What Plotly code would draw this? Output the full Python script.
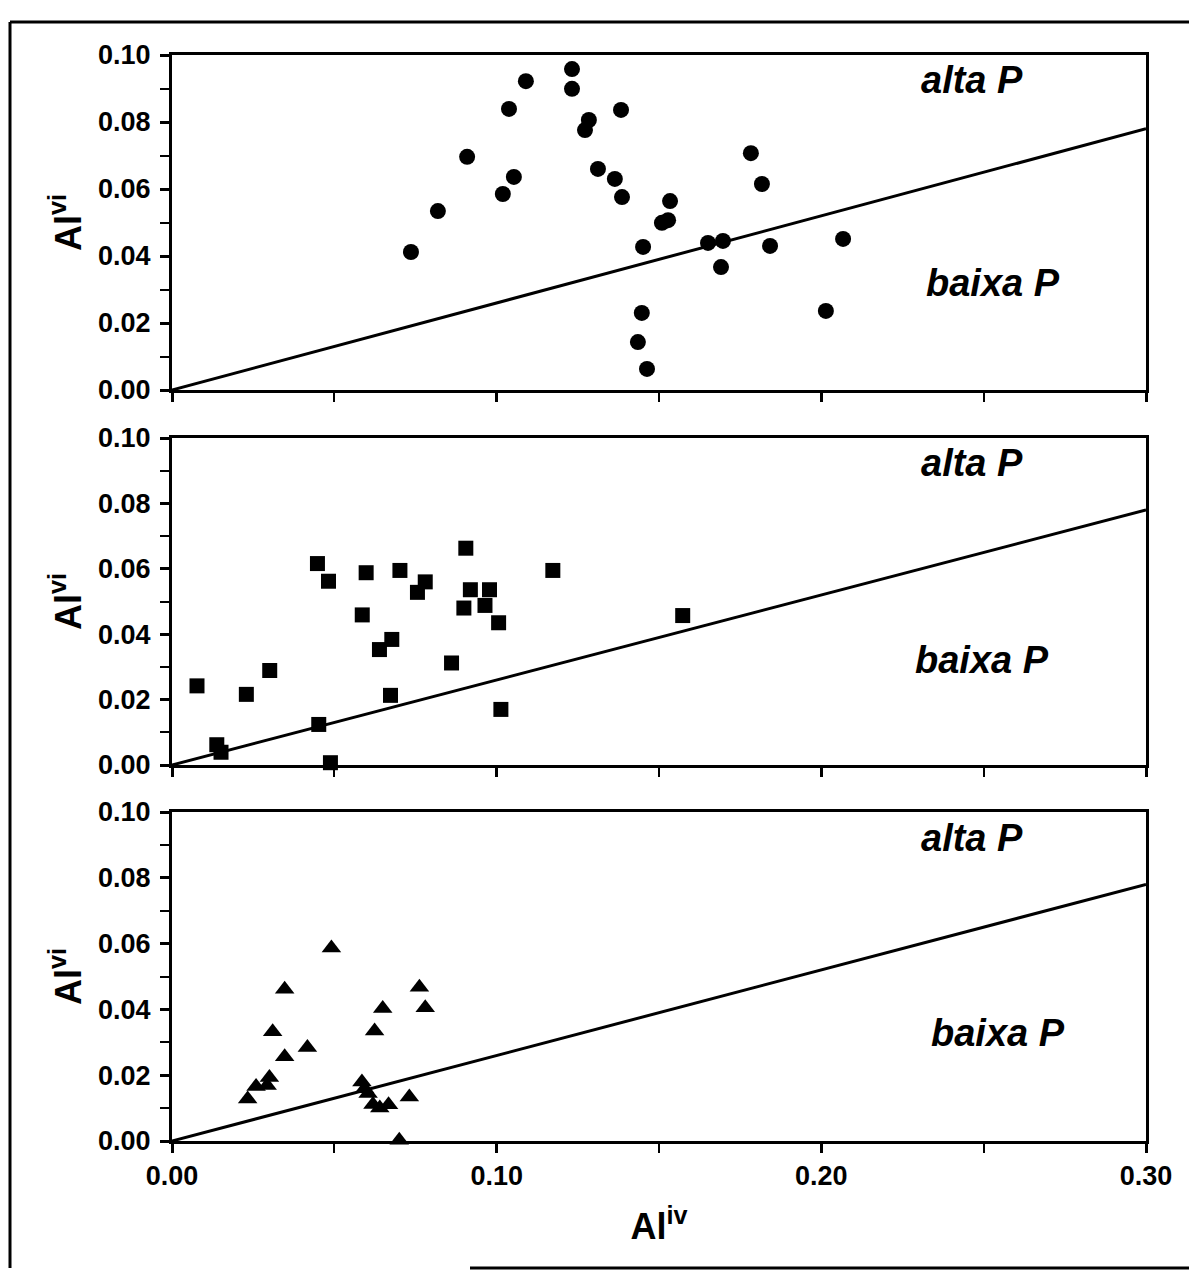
import plotly.graph_objects as go

# ---------------- data ----------------
# top panel (circles)
top_x = [0.0736, 0.0819, 0.0909, 0.1019, 0.1053, 0.1038, 0.1090, 0.1232, 0.1232, 0.1284,
         0.1272, 0.1383, 0.1312, 0.1364, 0.1386, 0.1534, 0.1528, 0.1509, 0.1451, 0.1447,
         0.1435, 0.1463, 0.1651, 0.1697, 0.1691, 0.1783, 0.1817, 0.1842, 0.2014, 0.2067]
top_y = [0.0412, 0.0534, 0.0696, 0.0585, 0.0636, 0.0839, 0.0922, 0.0958, 0.0899, 0.0806,
         0.0776, 0.0836, 0.0660, 0.0630, 0.0576, 0.0564, 0.0507, 0.0499, 0.0427, 0.0230,
         0.0143, 0.0063, 0.0439, 0.0445, 0.0367, 0.0707, 0.0615, 0.0430, 0.0236, 0.0451]

# middle panel (squares)
mid_x = [0.0077, 0.0229, 0.0301, 0.0138, 0.0151, 0.0452, 0.0488, 0.0448, 0.0482, 0.0586,
         0.0598, 0.0639, 0.0677, 0.0673, 0.0702, 0.0756, 0.0780, 0.0861, 0.0905, 0.0899,
         0.0919, 0.0964, 0.0978, 0.1006, 0.1013, 0.1173, 0.1573]
mid_y = [0.0242, 0.0216, 0.0289, 0.0062, 0.0039, 0.0124, 0.0007, 0.0616, 0.0562, 0.0459,
         0.0588, 0.0353, 0.0384, 0.0213, 0.0595, 0.0528, 0.0560, 0.0312, 0.0663, 0.0480,
         0.0536, 0.0488, 0.0536, 0.0435, 0.0170, 0.0595, 0.0457]

# bottom panel (triangles)
bot_x = [0.0233, 0.0259, 0.0293, 0.0300, 0.0310, 0.0347, 0.0347, 0.0417, 0.0491, 0.0585,
         0.0593, 0.0604, 0.0619, 0.0640, 0.0667, 0.0624, 0.0649, 0.0700, 0.0731, 0.0762, 0.0780]
bot_y = [0.0128, 0.0166, 0.0169, 0.0193, 0.0332, 0.0256, 0.0461, 0.0284, 0.0587, 0.0179,
         0.0159, 0.0144, 0.0111, 0.0100, 0.0110, 0.0334, 0.0403, 0.0002, 0.0134, 0.0467, 0.0405]

# dividing line alta P / baixa P
line_x = [0.0, 0.30]
line_y = [0.0, 0.078]

x_major = [0.0, 0.10, 0.20, 0.30]
x_major_text = ["0.00", "0.10", "0.20", "0.30"]
y_major = [0.0, 0.02, 0.04, 0.06, 0.08, 0.10]
y_major_text = ["0.00", "0.02", "0.04", "0.06", "0.08", "0.10"]

label_hi = "alta P"
label_lo = "baixa P"
ytitle = "Al<sup>vi</sup>"
xtitle = "Al<sup>iv</sup>"

# label positions (data coords) per panel
hi_pos = [(0.2464, 0.0925), (0.2464, 0.0924), (0.2464, 0.0921)]
lo_pos = [(0.2528, 0.0320), (0.2495, 0.0321), (0.2544, 0.0328)]

# ---------------- figure ----------------
FONT = "Liberation Sans, Arial, sans-serif"
fig = go.Figure()

panels = [
    (top_x, top_y, "circle", 16, "x", "y"),
    (mid_x, mid_y, "square", 15, "x2", "y2"),
    (bot_x, bot_y, "triangle-up", 17, "x3", "y3"),
]
for px_, py_, sym, sz, xa, ya in panels:
    fig.add_trace(go.Scatter(x=line_x, y=line_y, mode="lines",
                             line=dict(color="black", width=3),
                             xaxis=xa, yaxis=ya, showlegend=False, hoverinfo="skip"))
    fig.add_trace(go.Scatter(x=px_, y=py_, mode="markers",
                             marker=dict(symbol=sym, size=sz, color="black"),
                             xaxis=xa, yaxis=ya, showlegend=False, cliponaxis=False))

# page has an 8px body margin: figure coordinates = reference pixels - 8
OFF = 8
W, H = 1197 - OFF, 1277 - OFF
L, R, T, B = 172 - OFF, 51, 55 - OFF, 136
ph = H - T - B
pw = W - L - R
def yp(py):
    return (H - B - (py - OFF)) / ph
def xp(px):
    return ((px - OFF) - L) / pw

domains = [[yp(390), 1.0], [yp(765), yp(438)], [0.0, yp(812)]]

layout = dict(
    width=W, height=H,
    margin=dict(l=L, r=R, t=T, b=B),
    paper_bgcolor="white", plot_bgcolor="white",
    font=dict(family=FONT, color="black", size=26),
    showlegend=False,
)

TICKFONT = dict(size=27, family=FONT, color="black", weight="bold")

for i in range(3):
    n = "" if i == 0 else str(i + 1)
    anchor_y = "y" + n
    anchor_x = "x" + n
    layout["xaxis" + n] = dict(
        domain=[0, 1], anchor=anchor_y, range=[0, 0.30],
        tickmode="array", tickvals=x_major, ticktext=x_major_text,
        showticklabels=(i == 2), ticks="outside", ticklen=9, tickwidth=2.5,
        tickcolor="black", showline=True, linecolor="black", linewidth=3,
        mirror=True, showgrid=False, zeroline=False,
        minor=dict(tickmode="array", tickvals=[0.05, 0.15, 0.25], ticks="outside",
                   ticklen=9, tickwidth=2, tickcolor="black", showgrid=False),
        tickfont=TICKFONT,
        fixedrange=True,
    )
    if i == 2:
        layout["xaxis" + n]["title"] = dict(
            text=xtitle, font=dict(size=36, family=FONT, color="black", weight="bold"),
            standoff=24)
    layout["yaxis" + n] = dict(
        domain=domains[i], anchor=anchor_x, range=[0, 0.10],
        tickmode="array", tickvals=y_major, ticktext=y_major_text,
        ticks="outside", ticklen=9, tickwidth=2.5, tickcolor="black",
        showline=True, linecolor="black", linewidth=3, mirror=True,
        showgrid=False, zeroline=False, ticklabelstandoff=4,
        minor=dict(tickmode="array", tickvals=[0.01, 0.03, 0.05, 0.07, 0.09],
                   ticks="outside", ticklen=9, tickwidth=2, tickcolor="black", showgrid=False),
        tickfont=TICKFONT,
        title=dict(text=ytitle, font=dict(size=36, family=FONT, color="black", weight="bold"),
                   standoff=6),
        fixedrange=True,
    )
    # overlay axes for the inner half of crossing major ticks
    layout["xaxis" + str(i + 4)] = dict(
        overlaying=anchor_x, anchor=anchor_y, range=[0, 0.30], side="bottom",
        tickmode="array", tickvals=x_major[:-1], ticks="inside", ticklen=9, tickwidth=2.5,
        tickcolor="black", showticklabels=False, showline=False, showgrid=False,
        zeroline=False, fixedrange=True,
    )
    layout["yaxis" + str(i + 4)] = dict(
        overlaying=anchor_y, anchor=anchor_x, range=[0, 0.10], side="left",
        tickmode="array", tickvals=y_major[:-1], ticks="inside", ticklen=9, tickwidth=2.5,
        tickcolor="black", showticklabels=False, showline=False, showgrid=False,
        zeroline=False, fixedrange=True,
    )

fig.update_layout(**layout)

# region labels
for i in range(3):
    n = "" if i == 0 else str(i + 1)
    for (lx, ly), txt in [(hi_pos[i], label_hi), (lo_pos[i], label_lo)]:
        fig.add_annotation(x=lx, y=ly, xref="x" + n, yref="y" + n, text="<b><i>" + txt + "</i></b>",
                           showarrow=False, font=dict(size=38, family=FONT, color="black"),
                           xanchor="center", yanchor="middle")

# outer frame (as visible in the scan)
frame = [
    (xp(10), yp(22), xp(10), yp(1268)),
    (xp(10), yp(22), xp(1193), yp(22)),
    (xp(1193), yp(22), xp(1193), yp(870)),
    (xp(470), yp(1268), xp(1197), yp(1268)),
]
for x0, y0, x1, y1 in frame:
    fig.add_shape(type="line", xref="paper", yref="paper", x0=x0, y0=y0, x1=x1, y1=y1,
                  line=dict(color="black", width=3))

fig.write_html("out.html")
